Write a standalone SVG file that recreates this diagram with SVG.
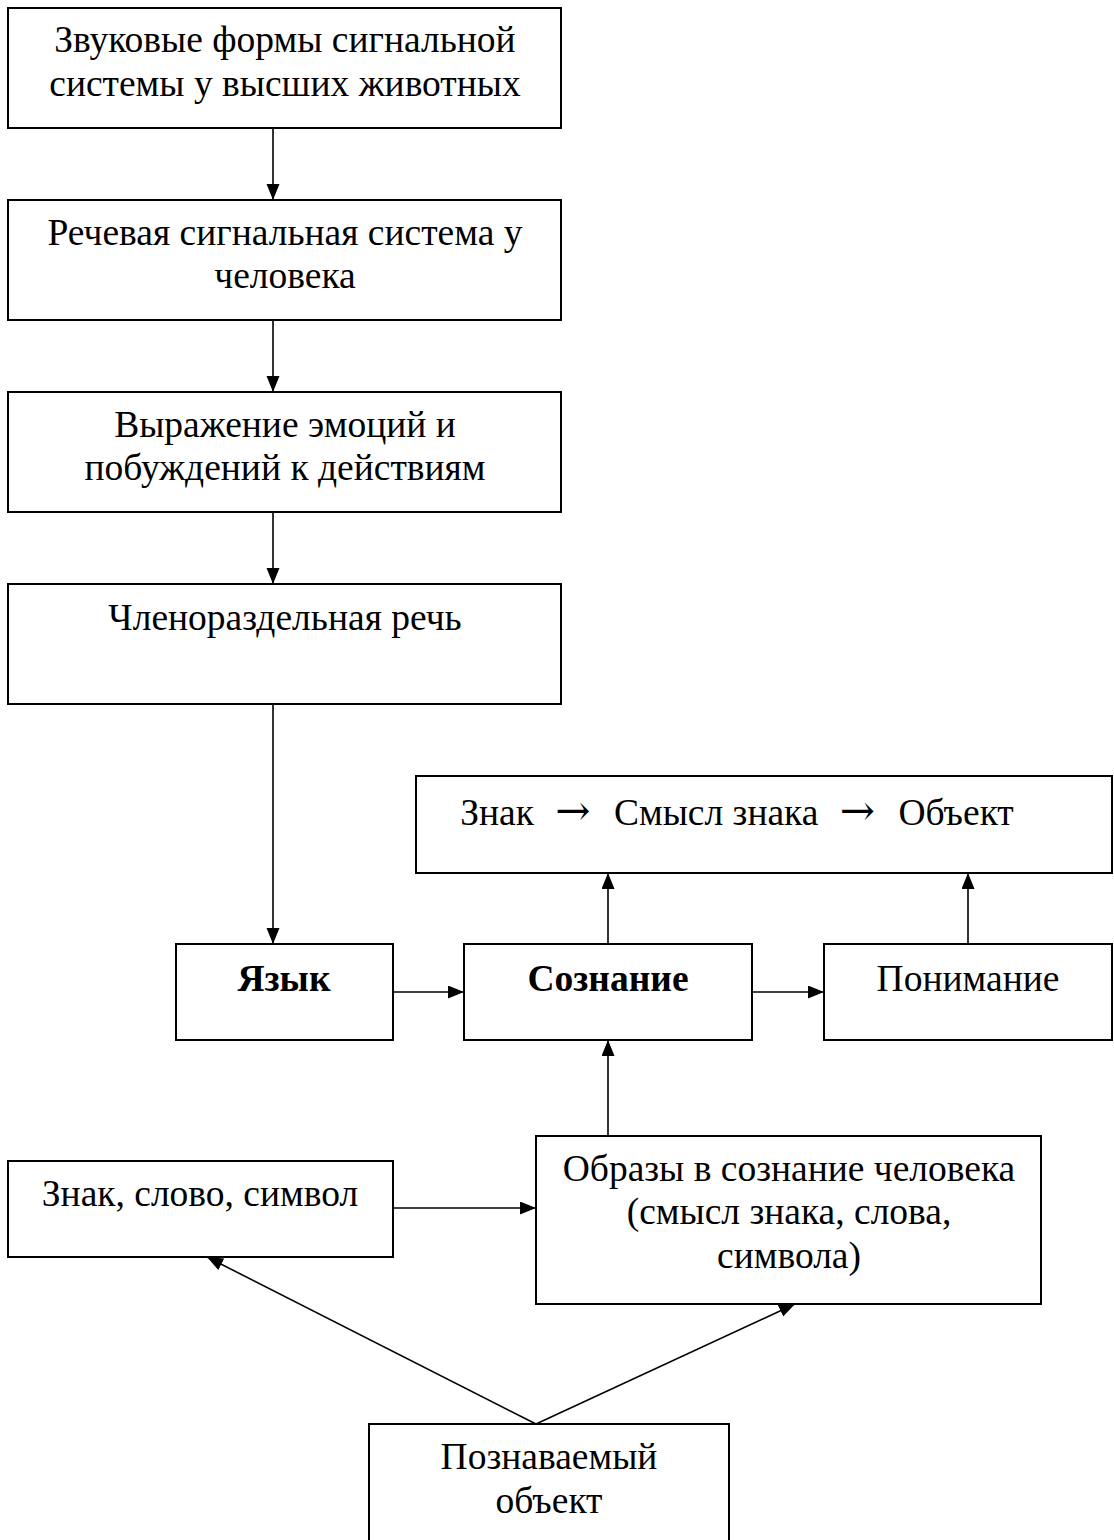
<svg xmlns="http://www.w3.org/2000/svg" width="1114" height="1540" viewBox="0 0 1114 1540">
<style>
.box{fill:#fff;stroke:#000;stroke-width:2}
.t{font-family:"Liberation Serif","Times New Roman",serif;font-size:37.5px;text-anchor:middle;fill:#000}
.b{font-weight:bold}
.ar{font-family:"DejaVu Serif",serif;font-size:42px}
.c{stroke:#000;stroke-width:1.6;fill:none}
</style>
<defs>
<marker id="ah" markerUnits="userSpaceOnUse" markerWidth="17" markerHeight="14" refX="16" refY="6.5" orient="auto">
<path d="M0,0 L16,6.5 L0,13 z" fill="#000"/>
</marker>
</defs>
<rect width="1114" height="1540" fill="#fff"/>
<g id="connectors">
<line class="c" x1="273" y1="128" x2="273" y2="200" marker-end="url(#ah)"/>
<line class="c" x1="273" y1="320" x2="273" y2="392" marker-end="url(#ah)"/>
<line class="c" x1="273" y1="512" x2="273" y2="584" marker-end="url(#ah)"/>
<line class="c" x1="273" y1="704" x2="273" y2="944" marker-end="url(#ah)"/>
<line class="c" x1="393" y1="992" x2="464" y2="992" marker-end="url(#ah)"/>
<line class="c" x1="752" y1="992" x2="824" y2="992" marker-end="url(#ah)"/>
<line class="c" x1="608" y1="944" x2="608" y2="873" marker-end="url(#ah)"/>
<line class="c" x1="968" y1="944" x2="968" y2="873" marker-end="url(#ah)"/>
<line class="c" x1="608" y1="1136" x2="608" y2="1040" marker-end="url(#ah)"/>
<line class="c" x1="393" y1="1208" x2="536" y2="1208" marker-end="url(#ah)"/>
<line class="c" x1="536" y1="1424" x2="207" y2="1257" marker-end="url(#ah)"/>
<line class="c" x1="536" y1="1424" x2="795" y2="1304" marker-end="url(#ah)"/>
</g>
<g id="n1">
<rect class="box" x="8" y="8" width="553" height="120"/>
<text class="t" x="285" y="52">Звуковые формы сигнальной</text>
<text class="t" x="285" y="96">системы у высших животных</text>
</g>
<g id="n2">
<rect class="box" x="8" y="200" width="553" height="120"/>
<text class="t" x="285" y="245">Речевая сигнальная система у</text>
<text class="t" x="285" y="288">человека</text>
</g>
<g id="n3">
<rect class="box" x="8" y="392" width="553" height="120"/>
<text class="t" x="285" y="437">Выражение эмоций и</text>
<text class="t" x="285" y="480">побуждений к действиям</text>
</g>
<g id="n4">
<rect class="box" x="8" y="584" width="553" height="120"/>
<text class="t" x="285" y="630">Членораздельная речь</text>
</g>
<g id="n5">
<rect class="box" x="416" y="776" width="696" height="97"/>
<text class="t" x="737" y="825">Знак <tspan class="ar" dx="12">→</tspan><tspan dx="14"> Смысл знака </tspan><tspan class="ar" dx="12">→</tspan><tspan dx="14"> Объект</tspan></text>
</g>
<g id="n6">
<rect class="box" x="176" y="944" width="217" height="96"/>
<text class="t b" x="284" y="991">Язык</text>
</g>
<g id="n7">
<rect class="box" x="464" y="944" width="288" height="96"/>
<text class="t b" x="608" y="991">Сознание</text>
</g>
<g id="n8">
<rect class="box" x="824" y="944" width="288" height="96"/>
<text class="t" x="968" y="991">Понимание</text>
</g>
<g id="n9">
<rect class="box" x="8" y="1161" width="385" height="96"/>
<text class="t" x="200" y="1206">Знак, слово, символ</text>
</g>
<g id="n10">
<rect class="box" x="536" y="1136" width="505" height="168"/>
<text class="t" x="789" y="1181">Образы в сознание человека</text>
<text class="t" x="789" y="1224">(смысл знака, слова,</text>
<text class="t" x="789" y="1268">символа)</text>
</g>
<g id="n11">
<rect class="box" x="369" y="1424" width="360" height="130"/>
<text class="t" x="549" y="1469">Познаваемый</text>
<text class="t" x="549" y="1513">объект</text>
</g>
</svg>
